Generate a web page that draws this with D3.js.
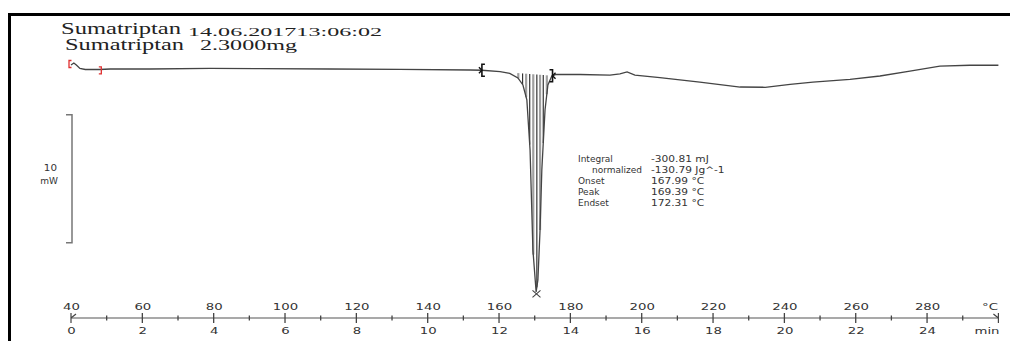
<!DOCTYPE html>
<html>
<head>
<meta charset="utf-8">
<script src="https://cdn.jsdelivr.net/npm/d3@7"></script>
<style>
html,body{margin:0;padding:0;background:#fff;}
svg{display:block;}
</style>
</head>
<body>
<svg id="chart" width="1010" height="341"></svg>
<script>
// ---------------- data ----------------
const sampleName = "Sumatriptan";
const runStamp = "14.06.201713:06:02";
const sampleMass = "2.3000mg";

// DSC curve: temperature (°C) and heat flow (mW, relative)
const curveT  = [40, 40.8, 41.5, 42.5, 44, 48, 51, 62, 79, 93, 112.6, 132.2, 151.9, 155.2, 160.3, 163, 165.3, 166.7, 167.8, 168.7, 169.5, 170.4, 170.9, 171.5, 172.0, 172.9, 173.7, 174.8, 176, 182.7, 191.1, 193.9, 195.9, 198.1, 205.1, 216.3, 227.6, 234.6, 241.6, 248, 258.4, 266.8, 275.2, 283.6, 292, 300];
const curveHF = [0.39, 0.55, 0.39, 0.12, 0.04, 0.04, 0.08, 0.08, 0.12, 0.1, 0.08, 0.05, 0.0, -0.02, -0.12, -0.27, -0.62, -1.17, -2.34, -6.25, -14.06, -17.34, -16.4, -12.5, -7.8, -3.1, -1.17, -0.47, -0.35, -0.35, -0.4, -0.3, -0.15, -0.4, -0.6, -0.94, -1.33, -1.35, -1.13, -0.94, -0.74, -0.47, -0.08, 0.31, 0.37, 0.37];

// integration limits and hatch positions (°C)
const integLimits = [155.2, 175.0];
const hatchT = [165.4, 166.6, 167.6, 168.6, 169.6, 170.6, 171.5, 172.4, 173.4];
const peakT = 170.5;
const leftLimits = [40, 48.5];

// scale bar (mW)
const scaleBar = [-3.5, -13.5];
const scaleLabel = ["10", "mW"];

// annotation
const annLabels = ["Integral", "normalized", "Onset", "Peak", "Endset"];
const annValues = ["-300.81 mJ", "-130.79 Jg^-1", "167.99 °C", "169.39 °C", "172.31 °C"];

// axes
const tempTicks = [40, 60, 80, 100, 120, 140, 160, 180, 200, 220, 240, 260, 280];
const minTicks = [0, 2, 4, 6, 8, 10, 12, 14, 16, 18, 20, 22, 24];
const minorMinTicks = [1, 3, 5, 7, 9, 11, 13, 15, 17, 19, 21, 23, 25];

// ---------------- drawing ----------------
const svg = d3.select("#chart");
const xT = d3.scaleLinear().domain([40, 300]).range([71, 998.4]);
const xM = d3.scaleLinear().domain([0, 26]).range([71, 998.4]);
const yS = d3.scaleLinear().domain([0, -10]).range([70, 198]);
const axisY = 318;
const SANS = "'DejaVu Sans', Verdana, sans-serif";
const SERIF = "'Liberation Serif', 'Times New Roman', serif";
const SX = 1.4;

// frame
svg.append("line").attr("x1", 8).attr("x2", 1010).attr("y1", 14.5).attr("y2", 14.5)
  .attr("stroke", "#000").attr("stroke-width", 3);
svg.append("line").attr("x1", 9.5).attr("x2", 9.5).attr("y1", 13).attr("y2", 341)
  .attr("stroke", "#000").attr("stroke-width", 3);

// titles
function serifText(t, x, y, size, len) {
  svg.append("text").attr("x", x).attr("y", y)
    .attr("font-family", SERIF).attr("font-size", size).attr("fill", "#222")
    .attr("textLength", len).attr("lengthAdjust", "spacingAndGlyphs").text(t);
}
serifText(sampleName, 61, 34, 16, 120);
serifText(runStamp, 188, 36, 13.5, 194);
serifText(sampleName, 65, 50, 16, 119);
serifText(sampleMass, 200, 50, 15, 97);

// sans text helper (horizontally stretched like the reference)
function sansText(t, x, y, size, anchor, color, sx) {
  svg.append("text")
    .attr("transform", `translate(${x},${y}) scale(${sx || SX},1)`)
    .attr("font-family", SANS).attr("font-size", size)
    .attr("text-anchor", anchor || "start").attr("fill", color || "#333").text(t);
}

// linear interpolation of the measured curve
const interp = t => {
  const i = Math.max(1, Math.min(curveT.length - 1, d3.bisectLeft(curveT, t)));
  const t0 = curveT[i - 1], t1 = curveT[i];
  return curveHF[i - 1] + (curveHF[i] - curveHF[i - 1]) * (t - t0) / (t1 - t0);
};
const baseAt = t => {
  const a = interp(integLimits[0]), b = interp(integLimits[1]);
  return a + (b - a) * (t - integLimits[0]) / (integLimits[1] - integLimits[0]);
};

// hatching inside peak
svg.append("g").selectAll("line").data(hatchT).join("line")
  .attr("x1", d => xT(d)).attr("x2", d => xT(d))
  .attr("y1", d => yS(baseAt(d))).attr("y2", d => yS(interp(d)))
  .attr("stroke", (d, i) => i % 2 ? "#333" : "#a0a0a0")
  .attr("stroke-width", (d, i) => i % 2 ? 1.2 : 2.2);

// curve
const line = d3.line().x((d, i) => xT(curveT[i])).y(d => yS(d));
svg.append("path").datum(curveHF).attr("d", line)
  .attr("fill", "none").attr("stroke", "#444").attr("stroke-width", 1.3);

// integration limit brackets
integLimits.forEach((t, k) => {
  const x = xT(t), y = yS(interp(t));
  const s = k === 0 ? 1 : -1;
  svg.append("path")
    .attr("d", `M${x + 3 * s},${y - 6} L${x},${y - 6} L${x},${y + 6} L${x + 3 * s},${y + 6}`)
    .attr("fill", "none").attr("stroke", "#111").attr("stroke-width", 1.6);
  svg.append("path")
    .attr("d", `M${x - 3 * s},${y - 3} L${x},${y} L${x - 3 * s},${y + 3}`)
    .attr("fill", "none").attr("stroke", "#111").attr("stroke-width", 1.4);
});

// red limits at start
leftLimits.forEach((t, k) => {
  const x = xT(t) - (k === 0 ? 2 : 0), y = yS(interp(t)) + (k === 0 ? -1 : 1);
  const s = k === 0 ? 1 : -1;
  svg.append("path")
    .attr("d", `M${x + 2.5 * s},${y - 3.5} L${x},${y - 3.5} L${x},${y + 3.5} L${x + 2.5 * s},${y + 3.5}`)
    .attr("fill", "none").attr("stroke", "#e03030").attr("stroke-width", 1.3);
});

// peak marker
{
  const x = xT(peakT), y = yS(d3.min(curveHF)) + 1.5;
  svg.append("path")
    .attr("d", `M${x - 4},${y - 3} L${x + 4},${y + 4} M${x + 4},${y - 3} L${x - 4},${y + 4}`)
    .attr("stroke", "#444").attr("stroke-width", 1.1).attr("fill", "none");
}

// annotation
annLabels.forEach((t, i) => {
  const yb = 162 + i * 11;
  sansText(t, i === 1 ? 592 : 578, yb, 9, "start", "#333", 1.0);
  sansText(annValues[i], 651, yb, 9, "start", "#333", 1.18);
});

// scale bar
{
  const x = 72, y1 = yS(scaleBar[0]), y2 = yS(scaleBar[1]);
  svg.append("path").attr("d", `M${x - 6},${y1} L${x},${y1} L${x},${y2} L${x - 6},${y2}`)
    .attr("fill", "none").attr("stroke", "#777").attr("stroke-width", 1.5);
  sansText(scaleLabel[0], 57, 171, 9, "end", "#333", 1.15);
  sansText(scaleLabel[1], 58, 184, 9, "end", "#333", 1.0);
}

// x axis line
svg.append("line").attr("x1", xM(0)).attr("x2", xM(26)).attr("y1", axisY).attr("y2", axisY)
  .attr("stroke", "#555").attr("stroke-width", 1.2);
// major & minor ticks
svg.append("g").selectAll("line").data(minTicks.slice(1)).join("line")
  .attr("x1", d => xM(d)).attr("x2", d => xM(d)).attr("y1", axisY - 5).attr("y2", axisY + 5)
  .attr("stroke", "#444").attr("stroke-width", 1.3);
svg.append("g").selectAll("line").data(minorMinTicks).join("line")
  .attr("x1", d => xM(d)).attr("x2", d => xM(d)).attr("y1", axisY - 2.5).attr("y2", axisY + 2.5)
  .attr("stroke", "#444").attr("stroke-width", 1.3);
// start and end markers
svg.append("path")
  .attr("d", `M${xM(0)},${axisY - 5} L${xM(0)},${axisY + 5} M${xM(0)},${axisY} L${xM(0) + 5},${axisY - 4}`)
  .attr("stroke", "#444").attr("stroke-width", 1.2).attr("fill", "none");
svg.append("path")
  .attr("d", `M${xM(26)},${axisY - 5} L${xM(26)},${axisY + 5} M${xM(26) - 5},${axisY - 4} L${xM(26)},${axisY}`)
  .attr("stroke", "#444").attr("stroke-width", 1.2).attr("fill", "none");

// tick labels via d3 axes
const gTop = svg.append("g").attr("transform", `translate(0,${axisY})`)
  .call(d3.axisTop(xT).tickValues(tempTicks).tickSize(0).tickPadding(8.5).tickFormat(d3.format("d")));
const gBot = svg.append("g").attr("transform", `translate(0,${axisY})`)
  .call(d3.axisBottom(xM).tickValues(minTicks).tickSize(0).tickPadding(9).tickFormat(d3.format("d")));
[gTop, gBot].forEach(g => {
  g.select(".domain").remove();
  g.selectAll("text").attr("font-family", SANS).attr("font-size", 9.5).attr("fill", "#333")
    .attr("transform", `scale(${SX},1)`);
});
sansText("°C", 990, 309.5, 9.5, "middle", "#333");
sansText("min", 987, 334, 9.5, "middle", "#333");
</script>
</body>
</html>
